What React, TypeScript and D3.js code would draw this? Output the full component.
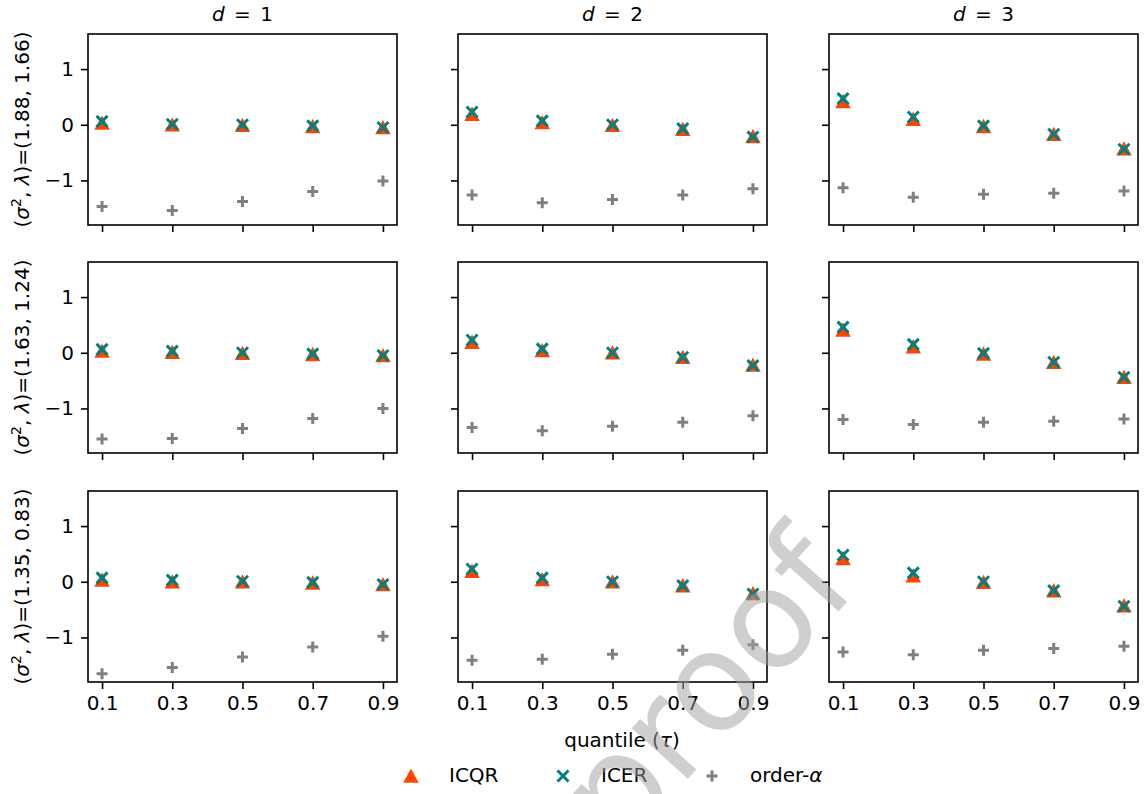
import React, { useEffect, useRef } from 'react';
import * as d3 from 'd3';

// quantile levels on the x axis
const taus = [0.1, 0.3, 0.5, 0.7, 0.9];
const dims = [1, 2, 3];
const rowParams = ['(1.88, 1.66)', '(1.63, 1.24)', '(1.35, 0.83)'];
const yTicks = [-1, 0, 1];

// icqr[row][col] -> values over taus
const icqr = [
    [[0.03, 0.0, -0.01, -0.03, -0.05], [0.19, 0.04, -0.01, -0.08, -0.21], [0.42, 0.10, -0.03, -0.17, -0.43]],
    [[0.03, 0.01, -0.01, -0.03, -0.05], [0.19, 0.04, 0.0, -0.08, -0.22], [0.41, 0.11, -0.02, -0.17, -0.44]],
    [[0.03, 0.0, 0.0, -0.02, -0.05], [0.19, 0.04, 0.0, -0.07, -0.21], [0.42, 0.11, -0.01, -0.16, -0.43]],
];
const icer = [
    [[0.06, 0.01, 0.0, -0.02, -0.05], [0.23, 0.07, 0.0, -0.07, -0.22], [0.47, 0.14, -0.02, -0.17, -0.44]],
    [[0.06, 0.03, 0.0, -0.02, -0.05], [0.23, 0.07, 0.0, -0.08, -0.23], [0.46, 0.15, -0.01, -0.17, -0.44]],
    [[0.07, 0.03, 0.01, -0.01, -0.05], [0.23, 0.07, 0.0, -0.07, -0.22], [0.48, 0.16, 0.0, -0.16, -0.44]],
];
const orderAlpha = [
    [[-1.47, -1.54, -1.38, -1.20, -1.01], [-1.26, -1.40, -1.34, -1.26, -1.15], [-1.13, -1.30, -1.25, -1.23, -1.19]],
    [[-1.55, -1.54, -1.36, -1.18, -1.00], [-1.34, -1.40, -1.32, -1.25, -1.13], [-1.20, -1.29, -1.25, -1.23, -1.19]],
    [[-1.65, -1.54, -1.35, -1.17, -0.98], [-1.41, -1.39, -1.30, -1.23, -1.13], [-1.26, -1.31, -1.23, -1.20, -1.16]],
];

const FONT = 'DejaVu Sans';
const colX = [88, 458, 829];
const rowY = [34, 262, 491];
const panelW = 309;
const panelH = 191;

const triPath = 'M0,-6L6.5,6L-6.5,6Z';
const xPath = 'M-5.5,-5.5L5.5,5.5M-5.5,5.5L5.5,-5.5';
const plusPath = 'M-5.5,0L5.5,0M0,-5.5L0,5.5';

const drawMarker = (g, kind, cx, cy) => {
    if (kind === 'tri') {
        g.append('path').attr('d', triPath)
            .attr('transform', `translate(${cx},${cy})`)
            .attr('fill', '#ff4500').attr('stroke', '#ff4500').attr('stroke-width', 1.5)
            .attr('stroke-linejoin', 'miter');
    } else if (kind === 'x') {
        g.append('path').attr('d', xPath)
            .attr('transform', `translate(${cx},${cy})`)
            .attr('fill', 'none').attr('stroke', '#008080').attr('stroke-width', 3);
    } else {
        g.append('path').attr('d', plusPath)
            .attr('transform', `translate(${cx},${cy})`)
            .attr('fill', 'none').attr('stroke', '#808080').attr('stroke-width', 3);
    }
};

const App = () => {
    const ref = useRef(null);

    useEffect(() => {
        const svg = d3.select(ref.current);
        svg.selectAll('*').remove();

        const x = d3.scaleLinear().domain([0.06, 0.94]).range([0, panelW]);
        const y = d3.scaleLinear().domain([-1.8, 1.63]).range([panelH, 0]);

        rowY.forEach((top, r) => {
            colX.forEach((left, c) => {
                const g = svg.append('g').attr('transform', `translate(${left},${top})`);

                // axes
                const yAxis = d3.axisLeft(y).tickValues(yTicks).tickSize(7).tickPadding(7)
                    .tickSizeOuter(0).tickFormat((d) => (c === 0 ? d3.format('')(d).replace('-', '\u2212') : ''));
                const ya = g.append('g').call(yAxis);
                const xAxis = d3.axisBottom(x).tickValues(taus).tickSize(7).tickPadding(7)
                    .tickSizeOuter(0).tickFormat((d) => (r === 2 ? d3.format('.1f')(d) : ''));
                const xa = g.append('g').attr('transform', `translate(0,${panelH})`).call(xAxis);
                [ya, xa].forEach((a) => {
                    a.select('.domain').remove();
                    a.selectAll('line').attr('stroke', '#000').attr('stroke-width', 1.6);
                    a.selectAll('text').attr('fill', '#000').attr('font-family', FONT).attr('font-size', 20);
                });

                // series
                taus.forEach((t, i) => drawMarker(g, 'plus', x(t), y(orderAlpha[r][c][i])));
                taus.forEach((t, i) => drawMarker(g, 'tri', x(t), y(icqr[r][c][i])));
                taus.forEach((t, i) => drawMarker(g, 'x', x(t), y(icer[r][c][i])));

                // frame
                g.append('rect').attr('width', panelW).attr('height', panelH)
                    .attr('fill', 'none').attr('stroke', '#000').attr('stroke-width', 1.6);
            });

            // row label
            const lab = svg.append('text')
                .attr('transform', `translate(29,${top + panelH / 2}) rotate(-90)`)
                .attr('text-anchor', 'middle').attr('font-family', FONT).attr('font-size', 20);
            lab.append('tspan').text('(');
            lab.append('tspan').attr('font-style', 'italic').text('\u03c3');
            lab.append('tspan').attr('font-size', 14).attr('dy', -8).text('2');
            lab.append('tspan').attr('dy', 8).text(', ');
            lab.append('tspan').attr('font-style', 'italic').text('\u03bb');
            lab.append('tspan').text(`)=${rowParams[r]}`);
        });

        // column titles
        dims.forEach((d, c) => {
            const t = svg.append('text').attr('x', colX[c] + panelW / 2).attr('y', 21)
                .attr('text-anchor', 'middle').attr('font-family', FONT).attr('font-size', 20);
            t.append('tspan').attr('font-style', 'italic').text('d');
            t.append('tspan').attr('dx', 3).text(' =');
            t.append('tspan').attr('dx', 3).text(` ${d}`);
        });

        // x label
        const xl = svg.append('text').attr('x', 622).attr('y', 747).attr('text-anchor', 'middle')
            .attr('font-family', FONT).attr('font-size', 20);
        xl.append('tspan').text('quantile (');
        xl.append('tspan').attr('font-style', 'italic').text('\u03c4');
        xl.append('tspan').text(')');

        // legend
        const legend = [
            { kind: 'tri', label: 'ICQR', mx: 411, tx: 449 },
            { kind: 'x', label: 'ICER', mx: 563, tx: 601 },
            { kind: 'plus', label: 'order-', mx: 712, tx: 750 },
        ];
        const lg = svg.append('g');
        legend.forEach((l) => {
            drawMarker(lg, l.kind, l.mx, 776);
            const tt = lg.append('text').attr('x', l.tx).attr('y', 782)
                .attr('font-family', FONT).attr('font-size', 20).text(l.label);
            if (l.kind === 'plus') tt.append('tspan').attr('font-style', 'italic').text('\u03b1');
        });

        // watermark
        svg.append('text').attr('x', 621).attr('y', 853)
            .attr('transform', 'rotate(-48,621,853)')
            .attr('font-family', FONT).attr('font-size', 138)
            .attr('fill', '#a0a0a0').attr('opacity', 0.5)
            .text('proof');
    }, []);

    return (
        <svg ref={ref} width={1146} height={794}
            style={{ position: 'absolute', left: 0, top: 0, background: '#fff' }} />
    );
};

export default App;
